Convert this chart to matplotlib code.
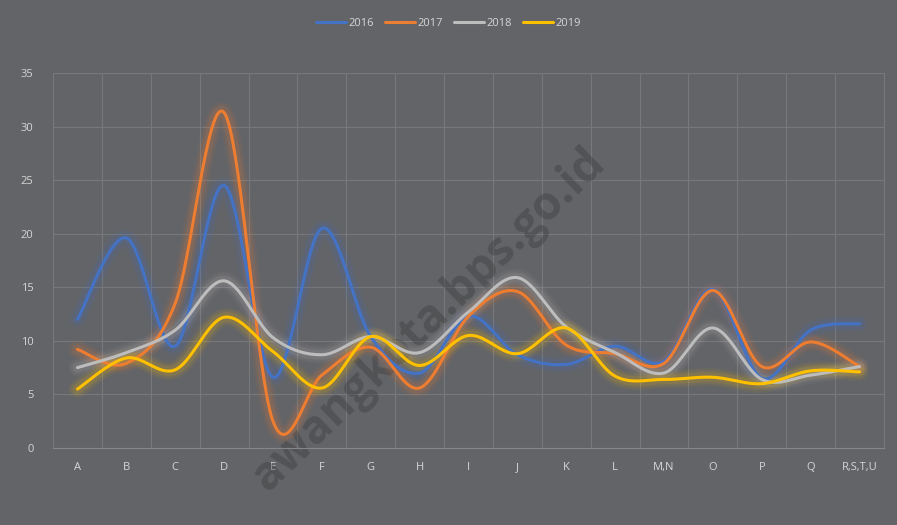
import numpy as np
import matplotlib.pyplot as plt

categories = ['A', 'B', 'C', 'D', 'E', 'F', 'G', 'H', 'I', 'J', 'K', 'L',
              'M,N', 'O', 'P', 'Q', 'R,S,T,U']
y2016 = [12.0, 19.6, 9.5, 24.5, 6.6, 20.5, 10.4, 7.0, 12.3, 8.7, 7.8, 9.5,
         8.1, 14.8, 6.5, 11.0, 11.6]
y2017 = [9.2, 7.9, 13.5, 31.3, 2.5, 6.8, 9.4, 5.6, 12.3, 14.6, 9.6, 8.8,
         7.9, 14.7, 7.6, 9.9, 7.6]
y2018 = [7.5, 8.9, 11.0, 15.6, 10.3, 8.7, 10.4, 8.9, 12.7, 15.9, 11.3, 8.9,
         7.0, 11.2, 6.4, 6.8, 7.6]
y2019 = [5.5, 8.4, 7.3, 12.2, 9.0, 5.6, 10.4, 7.7, 10.5, 8.8, 11.2, 6.7,
         6.4, 6.6, 6.0, 7.2, 7.1]
series = ['2016', '2017', '2018', '2019']
colors = ['#4472C4', '#ED7D31', '#BDBDBD', '#FFC000']

BG = '#636467'
GRID = '#77787b'
TXT = '#d6d6d6'


def smooth(x, y, n=40):
    # excel-style smoothed line: bezier through points, control pts at 1/6
    p = np.column_stack([x, y]).astype(float)
    p = np.vstack([p[0], p, p[-1]])
    t = np.linspace(0, 1, n)[:, None]
    out = []
    for i in range(1, len(p) - 2):
        p0, p1, p2, p3 = p[i - 1], p[i], p[i + 1], p[i + 2]
        c1 = p1 + (p2 - p0) / 6
        c2 = p2 - (p3 - p1) / 6
        seg = ((1 - t) ** 3 * p1 + 3 * (1 - t) ** 2 * t * c1
               + 3 * (1 - t) * t ** 2 * c2 + t ** 3 * p2)
        out.append(seg if i == 1 else seg[1:])
    out = np.vstack(out)
    return out[:, 0], out[:, 1]


fig = plt.figure(figsize=(8.97, 5.25), dpi=100, facecolor=BG)
ax = fig.add_axes([0.0591, 0.1467, 0.9264, 0.7143])
ax.set_facecolor(BG)

# watermark sits behind the lines
ax.text(0.478, 0.39, 'awangkota.bps.go.id', transform=fig.transFigure,
        rotation=44, fontsize=33, fontweight='bold', color='#3a3a3c', alpha=0.4,
        ha='center', va='center', family='Open Sans', zorder=1, clip_on=False)

x = np.arange(len(categories))
handles = []
for name, vals, c in zip(series, [y2016, y2017, y2018, y2019], colors):
    sx, sy = smooth(x, vals)
    for w, a in [(13, 0.05), (10, 0.07), (7, 0.12)]:
        ax.plot(sx, sy, color=c, lw=w, alpha=a, solid_capstyle='round', zorder=2)
    h, = ax.plot(sx, sy, color=c, lw=2.2, solid_capstyle='round', zorder=3, label=name)
    handles.append(h)

ax.set_xlim(-0.5, len(categories) - 0.5)
ax.set_ylim(0, 35)
ax.set_yticks(range(0, 36, 5))
ax.set_xticks(x)
ax.set_xticklabels(categories)
ax.set_xticks(np.arange(-0.5, len(categories), 1), minor=True)
ax.grid(True, which='minor', axis='x', color=GRID, lw=0.8)
ax.grid(True, which='major', axis='y', color=GRID, lw=0.8)
ax.set_axisbelow(True)
for s in ['top', 'left']:
    ax.spines[s].set_visible(False)
ax.spines['right'].set_color(GRID)
ax.spines['bottom'].set_color('#85868a')
ax.tick_params(which='both', length=0, colors=TXT, labelsize=8)
ax.tick_params(axis='x', pad=10)
ax.tick_params(axis='y', pad=14)
for lbl in ax.get_xticklabels() + ax.get_yticklabels():
    lbl.set_fontfamily('Open Sans')

leg = fig.legend(handles=handles, loc='center', bbox_to_anchor=(0.5, 0.956),
                 ncol=4, frameon=False, handlelength=2.7, columnspacing=1.0,
                 handletextpad=0.2, prop={'family': 'Open Sans', 'size': 8})
for t in leg.get_texts():
    t.set_color(TXT)

fig.savefig('out.png', dpi=100, facecolor=BG)
